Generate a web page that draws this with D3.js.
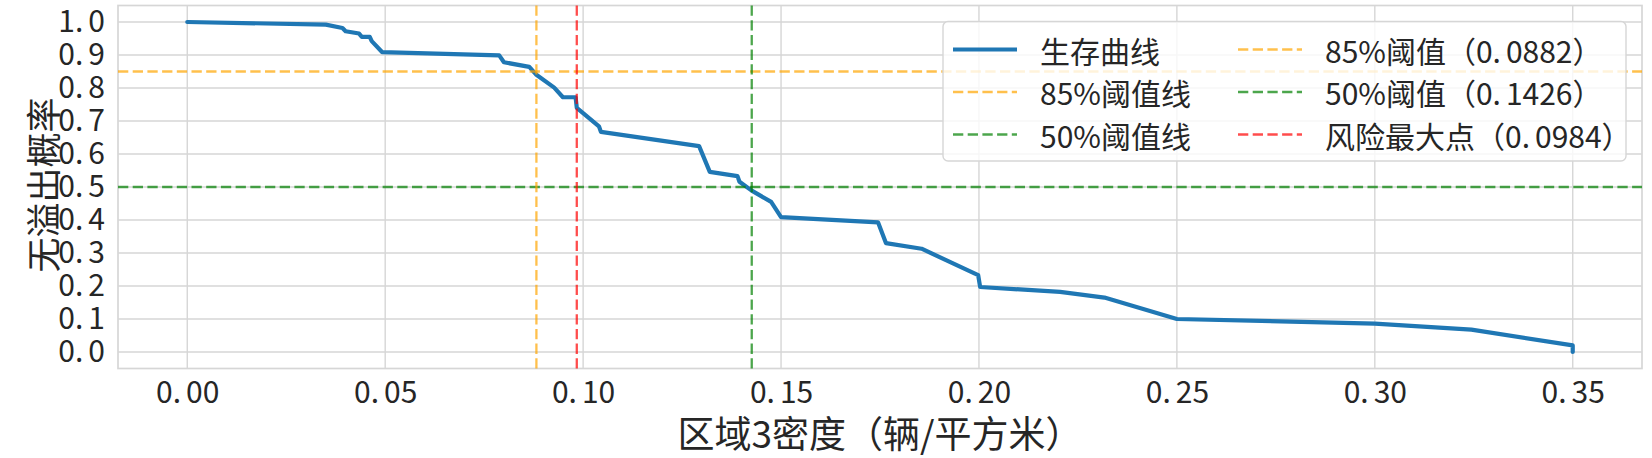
<!DOCTYPE html>
<html>
<head>
<meta charset="utf-8">
<script src="https://cdn.jsdelivr.net/npm/d3@7"></script>
<style>
    body { margin: 0; background: #fff; }
    text { font-family: "Noto Sans CJK SC", "Noto Sans", sans-serif; fill: #262626; }
</style>
</head>
<body>
<svg id="chart"></svg>
<script>
const width = 1652;
const height = 458;
const margin = { top: 5.5, right: 10, bottom: 89.5, left: 118 };

// survival curve
const density = [0, 0.035, 0.0392, 0.040, 0.0434, 0.0441, 0.0461, 0.0466, 0.0492, 0.0788, 0.080, 0.0864,
    0.0881, 0.0927, 0.0949, 0.0981, 0.0984, 0.104, 0.1045, 0.1293, 0.132, 0.139, 0.1395, 0.1426, 0.1475,
    0.150, 0.1745, 0.1765, 0.1855, 0.1998, 0.2003, 0.2205, 0.2317, 0.250, 0.300, 0.3244, 0.350, 0.350];
const survival = [1.0, 0.992, 0.982, 0.972, 0.965, 0.955, 0.955, 0.942, 0.909, 0.899, 0.878, 0.864,
    0.841, 0.801, 0.772, 0.772, 0.740, 0.684, 0.667, 0.624, 0.546, 0.533, 0.516, 0.489, 0.455,
    0.409, 0.393, 0.330, 0.313, 0.233, 0.197, 0.182, 0.165, 0.100, 0.086, 0.068, 0.020, 0.0];

const xTicks = [0, 0.05, 0.10, 0.15, 0.20, 0.25, 0.30, 0.35];
const yTicks = [0, 0.1, 0.2, 0.3, 0.4, 0.5, 0.6, 0.7, 0.8, 0.9, 1.0];

const hLines = [0.85, 0.5];
const hColors = ["orange", "green"];
const vLines = [0.0882, 0.1426, 0.0984];
const vColors = ["orange", "green", "red"];

const legendLabels = ["生存曲线", "85%阈值线", "50%阈值线", "85%阈值（0.0882）", "50%阈值（0.1426）", "风险最大点（0.0984）"];
const legendColors = ["#1f77b4", "orange", "green", "orange", "green", "red"];

const xTitle = "区域3密度（辆/平方米）";
const yTitle = "无溢出概率";

const dash = "10.3,4.4";

// the original font leaves a wide gap after the decimal point
function spreadPoint(sel, gap) {
    sel.each(function() {
        const t = d3.select(this);
        const s = t.text();
        const k = s.indexOf(".");
        if (k < 0) return;
        t.text(null);
        t.append("tspan").text(s.slice(0, k + 1));
        t.append("tspan").attr("dx", gap).text(s.slice(k + 1));
    });
}

const svg = d3.select("#chart")
    .attr("width", width)
    .attr("height", height);

const plotW = width - margin.left - margin.right;
const plotH = height - margin.top - margin.bottom;

const x = d3.scaleLinear().domain([-0.0175, 0.3675]).range([margin.left, margin.left + plotW]);
const y = d3.scaleLinear().domain([-0.05, 1.05]).range([margin.top + plotH, margin.top]);

// grid
svg.append("g").selectAll("line").data(xTicks).enter()
    .append("line")
    .attr("x1", d => x(d)).attr("x2", d => x(d))
    .attr("y1", margin.top).attr("y2", margin.top + plotH)
    .attr("stroke", "#d6d6d6").attr("stroke-width", 1.4);

svg.append("g").selectAll("line").data(yTicks).enter()
    .append("line")
    .attr("x1", margin.left).attr("x2", margin.left + plotW)
    .attr("y1", d => y(d)).attr("y2", d => y(d))
    .attr("stroke", "#d6d6d6").attr("stroke-width", 1.4);

svg.append("rect")
    .attr("x", margin.left).attr("y", margin.top)
    .attr("width", plotW).attr("height", plotH)
    .attr("fill", "none")
    .attr("stroke", "#d6d6d6")
    .attr("stroke-width", 1.7);

// axes
const xAxis = svg.append("g")
    .attr("transform", "translate(0," + (margin.top + plotH) + ")")
    .call(d3.axisBottom(x).tickValues(xTicks).tickFormat(d3.format(".2f")).tickSize(0).tickPadding(13));
const yAxis = svg.append("g")
    .attr("transform", "translate(" + margin.left + ",0)")
    .call(d3.axisLeft(y).tickValues(yTicks).tickFormat(d3.format(".1f")).tickSize(0).tickPadding(13));

[xAxis, yAxis].forEach(a => {
    a.select(".domain").remove();
    a.selectAll("text").attr("font-size", 30).attr("fill", "#262626")
        .call(spreadPoint, 5);
});

// survival curve
const line = d3.line().x(d => x(d[0])).y(d => y(d[1]));
svg.append("path")
    .datum(density.map((d, i) => [d, survival[i]]))
    .attr("d", line)
    .attr("fill", "none")
    .attr("stroke", "#1f77b4")
    .attr("stroke-width", 4.2)
    .attr("stroke-linejoin", "round")
    .attr("stroke-linecap", "round");

// threshold lines
svg.append("g").selectAll("line").data(hLines).enter()
    .append("line")
    .attr("x1", margin.left).attr("x2", margin.left + plotW)
    .attr("y1", d => y(d)).attr("y2", d => y(d))
    .attr("stroke", (d, i) => hColors[i])
    .attr("stroke-opacity", 0.7)
    .attr("stroke-width", 2.3)
    .attr("stroke-dasharray", dash);

svg.append("g").selectAll("line").data(vLines).enter()
    .append("line")
    .attr("x1", d => x(d)).attr("x2", d => x(d))
    .attr("y1", margin.top).attr("y2", margin.top + plotH)
    .attr("stroke", (d, i) => vColors[i])
    .attr("stroke-opacity", 0.7)
    .attr("stroke-width", 2.3)
    .attr("stroke-dasharray", dash);

// axis titles
svg.append("text")
    .attr("x", margin.left + plotW / 2)
    .attr("y", 432)
    .attr("text-anchor", "middle")
    .attr("dominant-baseline", "central")
    .attr("font-size", 37)
    .text(xTitle);

svg.append("text")
    .attr("transform", "translate(41," + (margin.top + plotH / 2 - 2) + ") rotate(-90)")
    .attr("text-anchor", "middle")
    .attr("dominant-baseline", "central")
    .attr("font-size", 35)
    .text(yTitle);

// legend
const legend = svg.append("g").attr("transform", "translate(943,21.5)");

legend.append("rect")
    .attr("width", 683).attr("height", 139.5)
    .attr("rx", 5)
    .attr("fill", "#fff")
    .attr("fill-opacity", 0.8)
    .attr("stroke", "#d6d6d6")
    .attr("stroke-width", 1.4);

const items = legend.selectAll("g.item").data(legendLabels).enter()
    .append("g")
    .attr("class", "item")
    .attr("transform", (d, i) => "translate(" + (i < 3 ? 10 : 295) + "," + (28 + (i % 3) * 42.5) + ")");

items.append("line")
    .attr("x1", 0).attr("x2", 64)
    .attr("stroke", (d, i) => legendColors[i])
    .attr("stroke-opacity", (d, i) => i === 0 ? 1 : 0.7)
    .attr("stroke-width", (d, i) => i === 0 ? 4.2 : 2.3)
    .attr("stroke-dasharray", (d, i) => i === 0 ? null : dash);

items.append("text")
    .attr("x", 87)
    .attr("dominant-baseline", "central")
    .attr("font-size", 30)
    .text(d => d)
    .call(spreadPoint, 5);
</script>
</body>
</html>
